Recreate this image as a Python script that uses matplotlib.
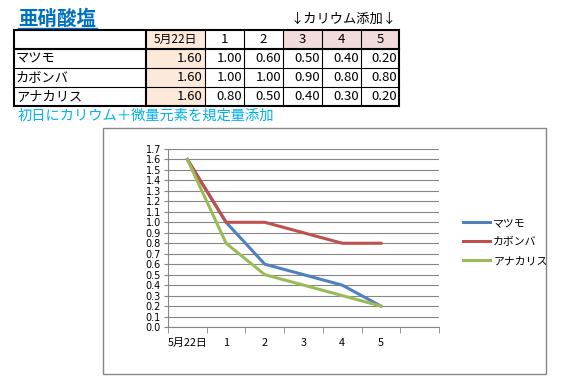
"""亜硝酸塩の推移（表 + 折れ線グラフ）"""

import matplotlib.pyplot as plt
from matplotlib.patches import Rectangle
from matplotlib.ticker import MultipleLocator, FixedLocator

plt.rcParams["font.family"] = ["Noto Sans CJK JP", "DejaVu Sans"]

TITLE = "亜硝酸塩"
NOTE_TOP = "↓カリウム添加↓"
NOTE_BOTTOM = "初日にカリウム＋微量元素を規定量添加"

DATES = ["5月22日", "1", "2", "3", "4", "5"]
SPECIES = ["マツモ", "カボンバ", "アナカリス"]
MATSUMO = [1.60, 1.00, 0.60, 0.50, 0.40, 0.20]
CABOMBA = [1.60, 1.00, 1.00, 0.90, 0.80, 0.80]
ANACHARIS = [1.60, 0.80, 0.50, 0.40, 0.30, 0.20]
SERIES = [MATSUMO, CABOMBA, ANACHARIS]
COLORS = ["#4F81BD", "#C0504D", "#9BBB59"]

W, H = 562, 389
fig = plt.figure(figsize=(W / 100, H / 100), dpi=100)

# 背景用（ピクセル座標）
bg = fig.add_axes([0, 0, 1, 1])
bg.set_xlim(0, W)
bg.set_ylim(H, 0)
bg.axis("off")

bg.text(18, 19, TITLE, fontsize=14, fontweight="bold", color="#0070C0",
        ha="left", va="center")
bg.plot([18, 97], [28, 28], color="#0070C0", lw=1)
bg.text(397, 19, NOTE_TOP, fontsize=9.5, color="black", ha="right", va="center")
bg.text(18, 116, NOTE_BOTTOM, fontsize=10.3, color="#00B0F0", ha="left", va="center")

# 表
xs = [14, 146, 205, 244, 283, 322, 361, 399]
ys = [30, 49, 68, 87, 106]
peach = "#FDE9D9"
pink = "#F2DCDB"
bg.add_patch(Rectangle((xs[1], ys[0]), xs[2] - xs[1], ys[4] - ys[0], color=peach, lw=0))
for c in range(4, 7):
    bg.add_patch(Rectangle((xs[c], ys[0]), xs[c + 1] - xs[c], ys[1] - ys[0], color=pink, lw=0))

for y in ys[1:-1]:
    bg.plot([xs[0], xs[-1]], [y, y], color="black", lw=0.8)
bg.plot([xs[0], xs[-1]], [ys[1] - 1.5, ys[1] - 1.5], color="black", lw=0.8)
for x in xs[1:-1]:
    bg.plot([x, x], [ys[0], ys[-1]], color="black", lw=0.8)
bg.plot([xs[1] - 1.5, xs[1] - 1.5], [ys[0], ys[-1]], color="black", lw=0.8)
bg.add_patch(Rectangle((xs[0], ys[0]), xs[-1] - xs[0], ys[-1] - ys[0],
                       fill=False, edgecolor="black", lw=1.5))

for c, d in enumerate(DATES):
    cx = (xs[c + 1] + xs[c + 2]) / 2
    fs = 8.5 if c == 0 else 9.5
    bg.text(cx, (ys[0] + ys[1]) / 2, d, fontsize=fs, ha="center", va="center")
for r, (name, vals) in enumerate(zip(SPECIES, SERIES)):
    cy = (ys[r + 1] + ys[r + 2]) / 2
    bg.text(xs[0] + 2, cy, name, fontsize=9.5, ha="left", va="center")
    for c, v in enumerate(vals):
        bg.text(xs[c + 2] - 2, cy, f"{v:.2f}", fontsize=9.5, ha="right", va="center")

# グラフ枠
bg.add_patch(Rectangle((103, 128), 546 - 103, 374 - 128, fill=False,
                       edgecolor="#868686", lw=1))

# 折れ線グラフ
ax = fig.add_axes([168 / W, 1 - 327 / H, (439 - 168) / W, (327 - 149) / H])
x = list(range(len(DATES)))
for vals, name, col in zip(SERIES, SPECIES, COLORS):
    ax.plot(x, vals, color=col, lw=2.2, label=name, solid_joinstyle="miter")

ax.set_xlim(-0.5, len(DATES) + 0.5)
ax.set_ylim(0, 1.7)
ax.yaxis.set_major_locator(MultipleLocator(0.1))
ax.yaxis.set_major_formatter(plt.FuncFormatter(lambda v, p: f"{v:.1f}"))
ax.grid(axis="y", color="#868686", lw=0.8)
ax.set_axisbelow(True)

ax.set_xticks(x)
ax.set_xticklabels(DATES, fontsize=7.8)
ax.xaxis.set_minor_locator(FixedLocator([i - 0.5 for i in range(len(DATES) + 2)]))
ax.tick_params(axis="x", which="major", length=0, pad=8)
ax.tick_params(axis="x", which="minor", length=4, color="#868686", direction="out")
ax.tick_params(axis="y", length=3, color="#868686", pad=2)
for lab in ax.get_yticklabels():
    lab.set_fontfamily("DejaVu Sans")
    lab.set_fontsize(7)

for s in ["top", "right"]:
    ax.spines[s].set_visible(False)
for s in ["left", "bottom"]:
    ax.spines[s].set_color("#868686")

fig.legend(loc="center left", bbox_to_anchor=(463 / W, 1 - 242 / H),
           frameon=False, fontsize=7.8, handlelength=2.5, handletextpad=0.3,
           labelspacing=0.85, borderpad=0, borderaxespad=0)

plt.savefig("out.png", dpi=100)
